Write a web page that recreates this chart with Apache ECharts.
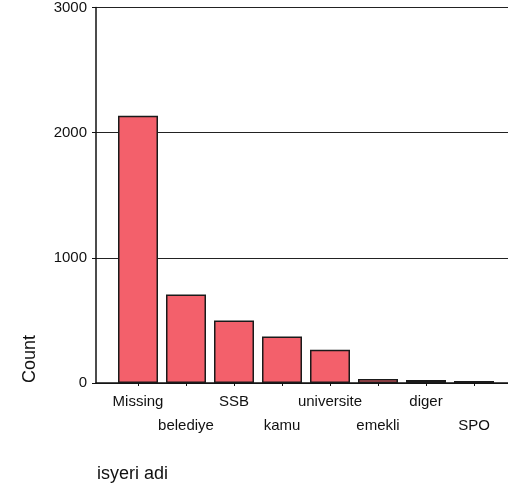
<!DOCTYPE html>
<html>
<head>
<meta charset="utf-8">
<script src="https://cdn.jsdelivr.net/npm/echarts@6/dist/echarts.min.js"></script>
<style>
html,body{margin:0;padding:0;background:#fff;}
#c{width:508px;height:490px;}
</style>
</head>
<body>
<div id="c"></div>
<script>
const categories = ['Missing', 'belediye', 'SSB', 'kamu', 'universite', 'emekli', 'diger', 'SPO'];
const counts = [2115, 700, 495, 368, 263, 32, 24, 16];
const yTicks = { min: 0, max: 3000, interval: 1000 };
const yAxisName = 'Count';
const xAxisName = 'isyeri adi';

const FONT = '"Liberation Sans", Arial, sans-serif';
const chart = echarts.init(document.getElementById('c'), null, { renderer: 'canvas' });
chart.setOption({
  backgroundColor: '#fff',
  animation: false,
  grid: [
    { left: 96, top: 4, right: 0, height: 379 },
    { left: 114, top: 4, width: 384, height: 379 }
  ],
  xAxis: [
    { gridIndex: 0, type: 'value', min: 0, max: 1,
      axisLine: { show: true, lineStyle: { color: '#111', width: 1.5 } },
      axisTick: { show: false }, axisLabel: { show: false }, splitLine: { show: false } },
    { gridIndex: 1, type: 'category', data: categories,
      axisLine: { show: false },
      axisTick: { show: true, alignWithLabel: true, length: 3, lineStyle: { color: '#111' } },
      axisLabel: { interval: 0, margin: 7, color: '#111', fontFamily: FONT, fontSize: 15, lineHeight: 24,
        formatter: function (v, i) { return i % 2 ? '\n' + v : v; } },
      splitLine: { show: false } }
  ],
  yAxis: [
    { gridIndex: 0, type: 'value', min: yTicks.min, max: yTicks.max, interval: yTicks.interval,
      axisLine: { show: true, lineStyle: { color: '#111', width: 1.5 } },
      axisTick: { show: true, length: 4, lineStyle: { color: '#111' } },
      axisLabel: { color: '#111', fontFamily: FONT, fontSize: 15, margin: 9,
        formatter: function (v) { return String(v); } },
      splitLine: { show: true, lineStyle: { color: '#222', width: 1.2 } } },
    { gridIndex: 1, type: 'value', min: yTicks.min, max: yTicks.max, interval: yTicks.interval, show: false }
  ],
  series: [{
    type: 'bar', xAxisIndex: 1, yAxisIndex: 1, data: counts, barWidth: 40,
    itemStyle: { color: '#f3606b', borderColor: '#1a1a1a', borderWidth: 1.5 }
  }],
  graphic: [
    { type: 'text', x: 30, y: 359, rotation: Math.PI / 2,
      style: { text: yAxisName, font: '18px ' + FONT, fill: '#111', align: 'center', verticalAlign: 'middle' } },
    { type: 'text', x: 97, y: 474,
      style: { text: xAxisName, font: '18px ' + FONT, fill: '#111', align: 'left', verticalAlign: 'middle' } }
  ]
});
</script>
</body>
</html>
